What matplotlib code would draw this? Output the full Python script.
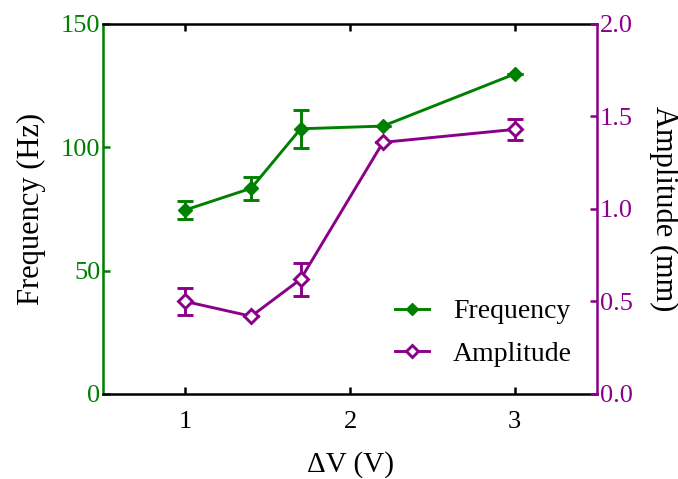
import matplotlib
matplotlib.use("Agg")
import matplotlib.pyplot as plt
from matplotlib.lines import Line2D

plt.rcParams['font.family'] = ['Liberation Serif', 'DejaVu Serif']

dv = [1.0, 1.4, 1.7, 2.2, 3.0]
freq = [74.6, 83.4, 107.5, 108.6, 129.7]
freq_err = [3.6, 4.6, 7.7, 0.0, 0.0]
amp = [0.50, 0.42, 0.62, 1.36, 1.43]
amp_err = [0.073, 0.0, 0.088, 0.0, 0.056]

green = '#008000'
purple = '#8B008B'
LW = 2.1

fig = plt.figure(figsize=(6.78, 4.79), dpi=100)
ax = fig.add_axes([0.152, 0.1775, 0.7285, 0.7725])
ax2 = ax.twinx()

ax.errorbar(dv, freq, yerr=freq_err, color=green, marker='D', markersize=7,
            lw=LW, capsize=5.5, capthick=LW, elinewidth=LW, zorder=3)
ax2.errorbar(dv, amp, yerr=amp_err, color=purple, marker='D', markersize=7,
             markerfacecolor='white', markeredgewidth=LW,
             lw=LW, capsize=5.5, capthick=LW, elinewidth=LW)

ax.set_xlim(0.5, 3.5)
ax.set_ylim(0, 150)
ax2.set_ylim(0, 2.0)
ax.set_xticks([1, 2, 3])
ax.set_yticks([0, 50, 100, 150])
ax2.set_yticks([0, 0.5, 1.0, 1.5, 2.0])
ax2.set_yticklabels(['0.0', '0.5', '1.0', '1.5', '2.0'])

for a in (ax, ax2):
    for s in a.spines.values():
        s.set_linewidth(1.8)
ax.spines['left'].set_color(green)
ax2.spines['left'].set_visible(False)
ax2.spines['right'].set_color(purple)
ax.spines['right'].set_visible(False)
ax2.spines['top'].set_visible(False)
ax2.spines['bottom'].set_visible(False)

ax.tick_params(axis='x', direction='in', length=5, width=1.8, top=True,
               labelsize=19, pad=12)
ax.tick_params(axis='y', direction='in', length=5, width=1.8, colors=green,
               labelsize=19, pad=2)
ax2.tick_params(axis='y', direction='in', length=5, width=1.8, colors=purple,
                labelsize=19, pad=2)

ax.set_xlabel('ΔV (V)', fontsize=21, labelpad=13)
ax.set_ylabel('Frequency (Hz)', fontsize=22, labelpad=11)
ax2.set_ylabel('Amplitude (mm)', fontsize=22, rotation=270, labelpad=33)

h1 = Line2D([], [], color=green, marker='D', markersize=6.5, lw=LW)
h2 = Line2D([], [], color=purple, marker='D', markersize=6.5, lw=LW,
            markerfacecolor='white', markeredgewidth=LW)
leg = ax.legend([h1, h2], ['Frequency', 'Amplitude'], loc='lower right',
                bbox_to_anchor=(1.0, 0.005), frameon=False, fontsize=20,
                handlelength=1.25, handletextpad=0.85, labelspacing=0.62)

fig.savefig('out.png', dpi=100)
